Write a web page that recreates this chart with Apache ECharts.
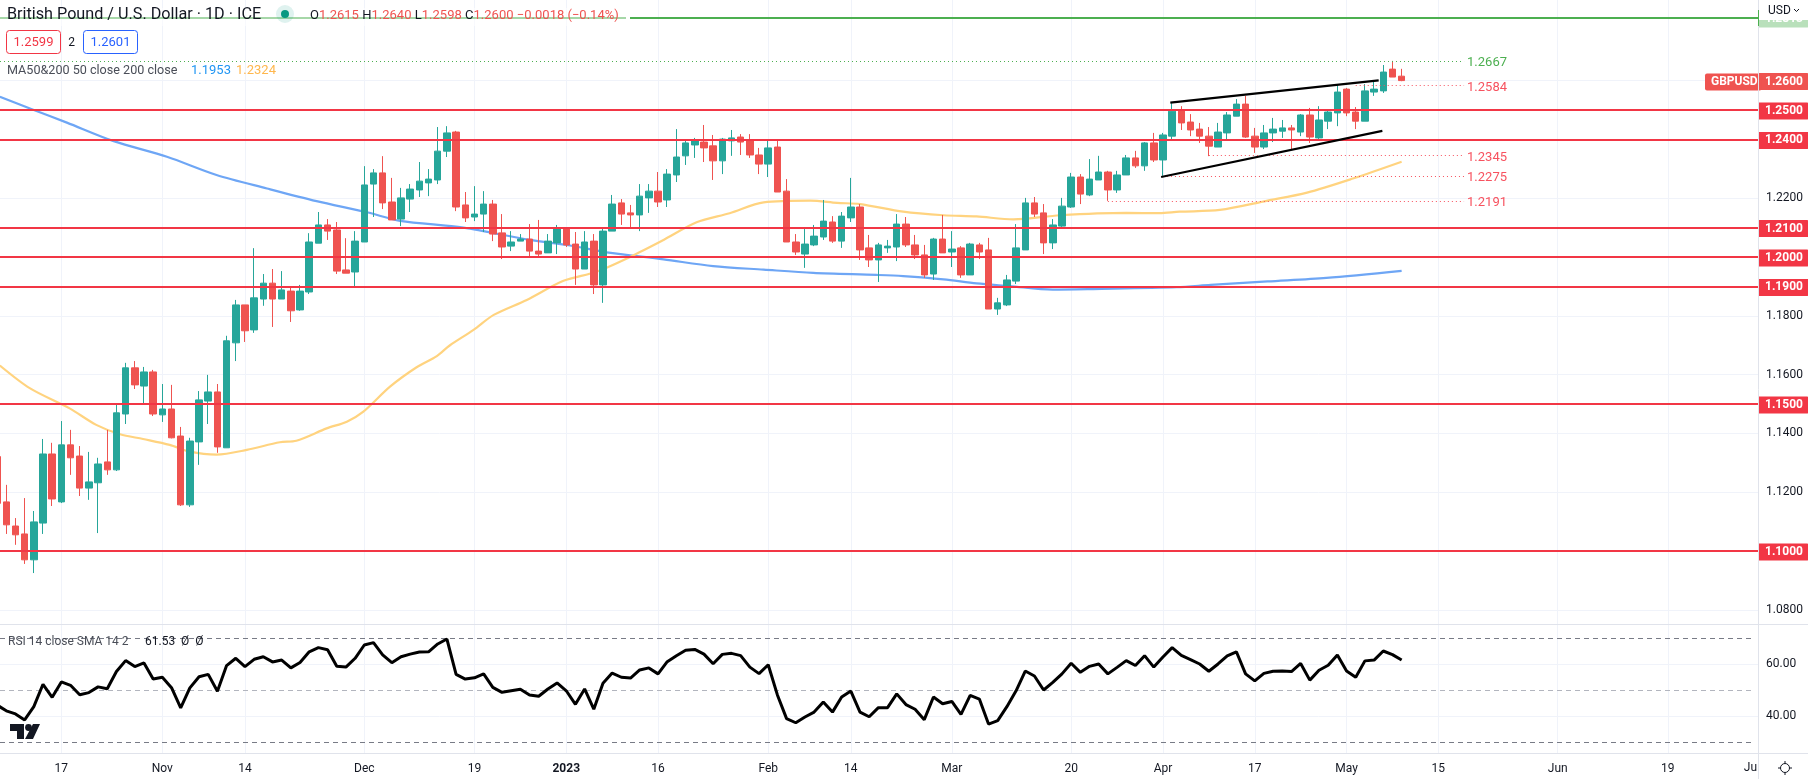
<!DOCTYPE html>
<html><head><meta charset="utf-8"><title>GBPUSD</title>
<style>html,body{margin:0;padding:0;background:#fff}#c{width:1808px;height:779px}</style>
<script src="https://cdn.jsdelivr.net/npm/echarts@6/dist/echarts.min.js"></script></head>
<body><div id="c"></div>
<script>
const opens=[1.1321,1.1167,1.1085,1.1058,1.0970,1.1095,1.1330,1.1167,1.1361,1.1323,1.1214,1.1232,1.1303,1.1276,1.1466,1.1623,1.1561,1.1609,1.1463,1.1483,1.1391,1.1157,1.1371,1.1510,1.1541,1.1351,1.1708,1.1837,1.1752,1.1857,1.1911,1.1857,1.1884,1.1820,1.1881,1.2047,1.2109,1.2092,1.1956,1.1949,1.2051,1.2248,1.2286,1.2187,1.2129,1.2197,1.2228,1.2252,1.2262,1.2360,
1.2425,1.2177,1.2136,1.2146,1.2180,1.2082,1.2037,1.2054,1.2061,1.2020,1.2014,1.2048,1.2095,1.2044,1.1959,1.2054,1.1905,1.2088,1.2184,1.2150,1.2143,1.2201,1.2224,1.2194,1.2279,1.2344,1.2381,1.2391,1.2378,1.2327,1.2395,1.2408,1.2398,1.2347,1.2316,1.2374,1.2224,1.2051,1.2010,1.2041,1.2068,1.2119,1.2054,1.2133,1.2170,1.2031,1.1990,1.2031,1.2034,1.2112,
1.2041,1.2007,1.1942,1.2061,1.2017,1.2031,1.1939,1.2041,1.2024,1.1823,1.1837,1.1918,1.2024,1.2184,1.2150,1.2048,1.2105,1.2170,1.2272,1.2211,1.2262,1.2289,1.2228,1.2279,1.2337,1.2310,1.2388,1.2330,1.2411,1.2500,1.2459,1.2435,1.2411,1.2374,1.2422,1.2479,1.2520,1.2411,1.2374,1.2422,1.2428,1.2439,1.2425,1.2483,1.2405,1.2462,1.2490,1.2571,1.2493,1.2462,1.2561,1.2565,1.2639,1.2615];
const closes=[1.1162,1.1089,1.1055,1.0970,1.1099,1.1330,1.1177,1.1361,1.1317,1.1214,1.1235,1.1296,1.1276,1.1470,1.1623,1.1565,1.1609,1.1466,1.1483,1.1385,1.1157,1.1374,1.1514,1.1541,1.1354,1.1715,1.1837,1.1749,1.1861,1.1911,1.1857,1.1888,1.1817,1.1884,1.2051,1.2109,1.2088,1.1952,1.1945,1.2054,1.2245,1.2286,1.2184,1.2126,1.2201,1.2231,1.2258,1.2265,1.2360,1.2422,
1.2170,1.2133,1.2146,1.2180,1.2078,1.2034,1.2051,1.2061,1.2020,1.2010,1.2054,1.2095,1.2041,1.1959,1.2051,1.1905,1.2088,1.2180,1.2146,1.2143,1.2207,1.2224,1.2187,1.2282,1.2340,1.2388,1.2395,1.2371,1.2327,1.2401,1.2405,1.2391,1.2347,1.2316,1.2371,1.2221,1.2051,1.2017,1.2044,1.2071,1.2122,1.2054,1.2139,1.2170,1.2024,1.1990,1.2041,1.2037,1.2112,1.2041,
1.2007,1.1939,1.2061,1.2014,1.2027,1.1939,1.2044,1.2017,1.1823,1.1844,1.1922,1.2031,1.2184,1.2146,1.2048,1.2109,1.2173,1.2272,1.2214,1.2265,1.2289,1.2228,1.2279,1.2337,1.2310,1.2388,1.2330,1.2415,1.2496,1.2456,1.2432,1.2411,1.2377,1.2425,1.2483,1.2520,1.2408,1.2374,1.2422,1.2435,1.2439,1.2432,1.2483,1.2408,1.2466,1.2493,1.2561,1.2490,1.2462,1.2565,1.2571,1.2629,1.2612,1.2600];
const highs=[1.1340,1.1225,1.1112,1.1180,1.1136,1.1381,1.1368,1.1442,1.1412,1.1357,1.1337,1.1317,1.1412,1.1500,1.1640,1.1646,1.1626,1.1616,1.1568,1.1565,1.1422,1.1385,1.1544,1.1599,1.1568,1.1732,1.1854,1.1837,1.2030,1.1942,1.1959,1.1952,1.1901,1.1905,1.2081,1.2153,1.2129,1.2119,1.2064,1.2088,1.2309,1.2299,1.2343,1.2269,1.2235,1.2248,1.2323,1.2299,1.2442,1.2445,
1.2429,1.2221,1.2241,1.2224,1.2194,1.2146,1.2088,1.2078,1.2112,1.2126,1.2078,1.2109,1.2102,1.2085,1.2088,1.2078,1.2099,1.2211,1.2197,1.2177,1.2248,1.2248,1.2289,1.2299,1.2435,1.2398,1.2405,1.2449,1.2415,1.2405,1.2432,1.2418,1.2418,1.2371,1.2395,1.2398,1.2265,1.2078,1.2095,1.2109,1.2194,1.2139,1.2153,1.2269,1.2180,1.2075,1.2048,1.2058,1.2146,1.2136,
1.2075,1.2041,1.2065,1.2143,1.2088,1.2037,1.2048,1.2048,1.2065,1.1861,1.1939,1.2112,1.2201,1.2204,1.2180,1.2129,1.2201,1.2286,1.2282,1.2333,1.2344,1.2293,1.2293,1.2347,1.2361,1.2391,1.2422,1.2422,1.2523,1.2513,1.2486,1.2456,1.2442,1.2456,1.2493,1.2537,1.2548,1.2439,1.2449,1.2473,1.2466,1.2449,1.2486,1.2507,1.2513,1.2500,1.2585,1.2575,1.2510,1.2588,1.2599,1.2653,1.2667,1.2640];
const lows=[1.1140,1.1058,1.1021,1.0956,1.0925,1.1058,1.1153,1.1163,1.1259,1.1187,1.1174,1.1061,1.1259,1.1272,1.1432,1.1551,1.1500,1.1459,1.1439,1.1383,1.1153,1.1150,1.1293,1.1432,1.1334,1.1351,1.1646,1.1711,1.1742,1.1834,1.1762,1.1857,1.1779,1.1817,1.1874,1.2047,1.2058,1.1942,1.1945,1.1901,1.2051,1.2136,1.2163,1.2126,1.2105,1.2153,1.2204,1.2207,1.2248,1.2340,
1.2156,1.2119,1.2122,1.2085,1.2054,1.1993,1.2020,1.2054,1.2003,1.2003,1.2014,1.2010,1.2034,1.1905,1.1959,1.1874,1.1844,1.2088,1.2109,1.2102,1.2088,1.2150,1.2170,1.2170,1.2255,1.2313,1.2337,1.2323,1.2262,1.2282,1.2344,1.2347,1.2337,1.2282,1.2272,1.2221,1.2051,1.2007,1.1963,1.2037,1.2058,1.2048,1.2031,1.2119,1.1990,1.1966,1.1915,1.2014,1.1986,1.2034,
1.1993,1.1929,1.1922,1.2014,1.1966,1.1929,1.1939,1.1993,1.1823,1.1803,1.1833,1.1908,1.2024,1.2136,1.2010,1.2027,1.2102,1.2167,1.2180,1.2207,1.2262,1.2191,1.2218,1.2279,1.2303,1.2293,1.2323,1.2276,1.2398,1.2432,1.2411,1.2388,1.2343,1.2374,1.2398,1.2479,1.2405,1.2354,1.2367,1.2391,1.2405,1.2367,1.2411,1.2388,1.2401,1.2435,1.2445,1.2479,1.2435,1.2462,1.2548,1.2558,1.2612,1.2598];
const rsi=[44.2,42.0,40.8,38.5,43.6,52.2,47.2,53.1,51.8,48.2,49.0,51.2,50.5,57.1,61.3,59.0,60.4,54.2,54.9,50.9,43.1,50.8,55.1,56.0,49.5,59.4,62.2,59.0,61.8,62.8,60.8,61.5,58.5,60.6,64.7,66.3,65.5,59.1,58.8,62.2,67.3,68.2,63.5,60.5,62.8,63.8,64.6,64.7,67.7,69.6,56.0,54.2,54.7,56.2,51.0,49.1,49.7,50.3,48.1,47.6,50.4,52.7,49.7,44.5,50.4,42.6,
52.6,56.5,54.9,54.6,57.7,58.5,56.2,60.9,63.2,65.3,65.6,63.8,60.1,63.7,64.1,63.2,58.8,56.3,59.7,48.1,39.0,37.4,39.6,41.5,45.4,41.5,47.3,49.6,41.5,39.7,43.2,43.2,48.5,44.4,42.6,38.6,47.3,44.7,45.6,40.6,47.9,46.5,36.9,38.2,43.6,49.7,57.3,55.4,50.0,52.9,56.2,60.3,56.8,59.1,60.0,56.2,58.7,61.3,59.4,63.2,58.8,62.7,66.3,63.3,61.7,60.0,57.2,60.0,63.1,64.7,56.2,53.5,56.4,57.2,57.3,57.1,60.2,
53.8,57.6,59.5,63.5,57.3,54.9,61.2,61.5,65.0,63.6,61.53];
// moving averages, read at sparse bar positions: [bar, value]
const ma200=[[0.3,1.2545],[4,1.2500],[7.6,1.2457],[12.7,1.2394],[18.5,1.2341],[23.9,1.2279],[29.4,1.2233],[34.8,1.2190],[40.3,1.2152],[43.9,1.2123],[50.8,1.2100],[58,1.2058],[62.4,1.2039],[66.4,1.2016],[72.6,1.1992],[78,1.1969],[83.5,1.1957],[88.9,1.1946],[95.8,1.1939],[98.7,1.1935],[103.1,1.1924],[106.7,1.1910],[110.3,1.1901],[115,1.1889],[119.4,1.1891],[128.5,1.1897],[132.2,1.1905],[138.4,1.1917],[144.8,1.1929],[153,1.1953]];
const ma50=[[0.3,1.1631],[3.6,1.1553],[7.9,1.1485],[10.8,1.1429],[13.4,1.1397],[15.9,1.1381],[18.8,1.1361],[21,1.1338],[23.9,1.1328],[27.2,1.1344],[30.8,1.1370],[32.6,1.1375],[35.9,1.1417],[38.1,1.1440],[39.9,1.1474],[42.8,1.1559],[45.7,1.1625],[47.9,1.1663],[49.3,1.1699],[51.9,1.1752],[54.1,1.1803],[57.7,1.1854],[61.7,1.1919],[65.3,1.1950],[69,1.2001],[72.6,1.2058],[76.2,1.2118],[79.8,1.2149],[83.5,1.2186],[88.6,1.2192],[91.5,1.2184],[94,1.2180],[98.7,1.2154],[103.1,1.2142],[106.7,1.2138],[110.7,1.2128],[115.8,1.2142],[123,1.2150],[126.6,1.2149],[128.8,1.2154],[133.2,1.2160],[138.3,1.2191],[142.7,1.2219],[147.7,1.2267],[153,1.2324]];
const trendUpper=[[127.8,1.2525],[150.5,1.2601]];
const trendLower=[[126.8,1.2272],[150.9,1.2429]];
const redLevels=[1.25,1.24,1.21,1.20,1.19,1.15,1.10];
const greenLevel=1.2813;
const pinkDotted=[[148,1.2584],[132,1.2345],[127,1.2275],[121,1.2191]];
const greenDotted=1.2667;
const priceTicks=[1.08,1.10,1.12,1.14,1.16,1.18,1.20,1.22,1.24,1.26];
const priceLabels=[1.08,1.12,1.14,1.16,1.18,1.22];
const rsiGrid=[40,60];
const rsiBands=[70,50,30];
const dateTicks=[7,18,27,40,52,62,72,84,93,104,117,127,137,147,157,170,182];
const dateLabels=['17','Nov','14','Dec','19','2023','16','Feb','14','Mar','20','Apr','17','May','15','Jun','19'];

const F='Roboto, "Open Sans", sans-serif';
const xMin=0.316,xMax=191.82,dotEnd=159.8;
const xBase=(idx,show)=>({type:'value',gridIndex:idx,min:xMin,max:xMax,position:'bottom',
  axisLine:{show:false},
  axisTick:{show:false,customValues:dateTicks},
  splitLine:{show:true,lineStyle:{color:'#f0f3fa',width:1}},
  axisLabel:show?{show:true,customValues:dateTicks,margin:10,color:'#131722',fontFamily:F,fontSize:12,hideOverlap:false,showMinLabel:true,showMaxLabel:true,
    formatter:v=>{const l=dateLabels[dateTicks.indexOf(v)];return l==='2023'?'{b|2023}':(l||'');},
    rich:{b:{fontWeight:'bold',color:'#131722',fontFamily:F,fontSize:12}}}:{show:false}});
const tag=(v,bg,lab)=>({yAxis:v,lineStyle:{color:bg,width:2,type:'solid'},
  label:{show:true,position:'end',distance:0,formatter:v.toFixed(4),color:'#fff',fontFamily:F,fontSize:12,fontWeight:'bold',backgroundColor:lab||bg,padding:[3,6,2,7],borderRadius:[0,2,2,0],offset:[0,1]}});
const seg=(x,v,c)=>[{coord:[x,v],lineStyle:{color:c,width:1,type:[1,3]},
    label:{show:true,position:'end',distance:3,offset:[0,2],formatter:v.toFixed(4),color:c,fontFamily:F,fontSize:13}},{coord:[dotEnd,v]}];
const lineS=(data,color,width,z,smooth)=>({type:'line',xAxisIndex:0,yAxisIndex:0,data,showSymbol:false,symbol:'none',z,smooth:smooth||false,
  lineStyle:{color,width},silent:true,animation:false});

const graphics=[
 {type:'rect',z:50,shape:{x:0,y:8,width:626,height:18},style:{fill:'rgba(255,255,255,0.5)'}},
 {type:'rect',z:50,shape:{x:626,y:8,width:4,height:18},style:{fill:'#fff'}},
 {type:'text',z:60,style:{x:7,y:15,text:'British Pound / U.S. Dollar · 1D · ICE',fontFamily:F,fontSize:16.2,fill:'#131722',verticalAlign:'middle'}},
 {type:'circle',z:60,shape:{cx:285,cy:14,r:9},style:{fill:'rgba(8,153,129,0.13)'}},
 {type:'circle',z:61,shape:{cx:285,cy:14,r:4},style:{fill:'#089981'}},
 {type:'text',z:60,style:{x:310,y:16,verticalAlign:'middle',text:'{k|O}{r|1.2615} {k|H}{r|1.2640} {k|L}{r|1.2598} {k|C}{r|1.2600} {r|−0.0018 (−0.14%)}',
   rich:{k:{fill:'#131722',fontFamily:F,fontSize:13},r:{fill:'#ef5350',fontFamily:F,fontSize:13}}}},
 {type:'rect',z:60,shape:{x:6.5,y:30.5,width:54,height:23,r:3},style:{fill:'#fff',stroke:'#f23645',lineWidth:1}},
 {type:'text',z:61,style:{x:33.5,y:43,text:'1.2599',align:'center',verticalAlign:'middle',fill:'#f23645',fontFamily:F,fontSize:13}},
 {type:'text',z:61,style:{x:71.5,y:43,text:'2',align:'center',verticalAlign:'middle',fill:'#131722',fontFamily:F,fontSize:12}},
 {type:'rect',z:60,shape:{x:83.5,y:30.5,width:54,height:23,r:3},style:{fill:'#fff',stroke:'#2962ff',lineWidth:1}},
 {type:'text',z:61,style:{x:110.5,y:43,text:'1.2601',align:'center',verticalAlign:'middle',fill:'#2962ff',fontFamily:F,fontSize:13}},
 {type:'text',z:60,style:{x:7,y:71,text:'MA50&200 50 close 200 close',verticalAlign:'middle',fill:'#4a4e58',fontFamily:F,fontSize:12.6}},
 {type:'text',z:60,style:{x:191,y:71,text:'1.1953',verticalAlign:'middle',fill:'#2196f3',fontFamily:F,fontSize:13}},
 {type:'text',z:60,style:{x:236,y:71,text:'1.2324',verticalAlign:'middle',fill:'#ffb74d',fontFamily:F,fontSize:13}},
 {type:'text',z:60,style:{x:8,y:642,text:'RSI 14 close SMA 14 2',verticalAlign:'middle',fill:'#4a4e58',fontFamily:F,fontSize:12}},
 {type:'text',z:60,style:{x:145,y:642,text:'61.53  Ø  Ø',verticalAlign:'middle',fill:'#131722',fontFamily:F,fontSize:12}},
 // frame
 {type:'rect',z:70,shape:{x:1759,y:0,width:49,height:20},style:{fill:'#fff'}},
 {type:'text',z:71,style:{x:1768,y:11,text:'USD',verticalAlign:'middle',fill:'#131722',fontFamily:F,fontSize:12}},
 {type:'polyline',z:71,shape:{points:[[1794,9],[1796.5,11.5],[1799,9]]},style:{stroke:'#131722',fill:null,lineWidth:1}},
 {type:'line',z:72,shape:{x1:1758.5,y1:0,x2:1758.5,y2:779},style:{stroke:'#e0e3eb',lineWidth:1}},
 {type:'line',z:73,shape:{x1:1758.5,y1:10,x2:1758.5,y2:26},style:{stroke:'#4caf50',lineWidth:1}},
 {type:'line',z:40,shape:{x1:0,y1:624.5,x2:1808,y2:624.5},style:{stroke:'#e0e3eb',lineWidth:1}},
 {type:'line',z:40,shape:{x1:0,y1:753.5,x2:1808,y2:753.5},style:{stroke:'#e0e3eb',lineWidth:1}},
 // price tag
 {type:'text',z:60,style:{x:1705,y:82,text:'GBPUSD',verticalAlign:'middle',fill:'#fff',fontFamily:F,fontSize:12,fontWeight:'bold',backgroundColor:'#ef5350',padding:[3,4,2,6],borderRadius:2}},
 {type:'text',z:60,style:{x:1757,y:768,text:'Ju',align:'right',verticalAlign:'middle',fill:'#131722',fontFamily:F,fontSize:12}},
 // TradingView mark
 {type:'polygon',z:60,shape:{points:[[10,724],[24,724],[24,739],[17,739],[17,731],[10,731]]},style:{fill:'#131722'}},
 {type:'circle',z:60,shape:{cx:28.5,cy:727.5,r:3.4},style:{fill:'#131722'}},
 {type:'polygon',z:60,shape:{points:[[33,724],[40,724],[33,739],[25,739]]},style:{fill:'#131722'}},
 // settings
 {type:'circle',z:60,shape:{cx:1785,cy:768,r:4.5},style:{fill:'none',stroke:'#131722',lineWidth:1}},
 {type:'line',z:60,shape:{x1:1785,y1:761,x2:1785,y2:763.5},style:{stroke:'#131722'}},
 {type:'line',z:60,shape:{x1:1785,y1:772.5,x2:1785,y2:775},style:{stroke:'#131722'}},
 {type:'line',z:60,shape:{x1:1778,y1:768,x2:1780.5,y2:768},style:{stroke:'#131722'}},
 {type:'line',z:60,shape:{x1:1789.5,y1:768,x2:1792,y2:768},style:{stroke:'#131722'}}
];

const option={animation:false,backgroundColor:'#fff',
 grid:[{left:0,top:0,width:1758,height:624},{left:0,top:624,width:1758,height:129}],
 xAxis:[xBase(0,false),xBase(1,true)],
 yAxis:[
  {type:'value',gridIndex:0,position:'right',min:1.07517,max:1.28741,scale:true,
   axisLine:{show:false},axisTick:{show:false,customValues:priceTicks},
   splitLine:{show:true,lineStyle:{color:'#f0f3fa',width:1}},
   axisLabel:{customValues:priceLabels,margin:8,color:'#131722',fontFamily:F,fontSize:12,padding:[2,0,0,0],formatter:v=>v.toFixed(4)}},
  {type:'value',gridIndex:1,position:'right',min:25.77,max:75.38,
   axisLine:{show:false},axisTick:{show:false,customValues:rsiGrid},
   splitLine:{show:true,lineStyle:{color:'#f0f3fa',width:1}},
   axisLabel:{customValues:rsiGrid,margin:8,color:'#131722',fontFamily:F,fontSize:12,padding:[2,0,0,0],formatter:v=>v.toFixed(2)}}
 ],
 graphic:{elements:graphics},
 series:[
  lineS(ma200,'#6ea6f5',2.2,1,0.3),
  lineS(ma50,'#ffd37f',2.2,1,0.3),
  {type:'candlestick',xAxisIndex:0,yAxisIndex:0,barWidth:7,z:2,silent:true,animation:false,
   data:opens.map((o,i)=>[i,o,closes[i],lows[i],highs[i]]),
   encode:{x:0,y:[1,2,3,4]},
   itemStyle:{color:'#26a69a',color0:'#ef5350',borderColor:'#26a69a',borderColor0:'#ef5350',borderWidth:1},
   markLine:{silent:true,symbol:'none',animation:false,z:5,precision:4,
    data:[...redLevels.map(v=>tag(v,'#f23645')),tag(greenLevel,'#4caf50','#b9e0bb'),
     {yAxis:1.26,lineStyle:{color:'rgba(0,0,0,0)',width:1},label:{show:true,position:'end',distance:0,offset:[0,1],formatter:'1.2600',color:'#fff',fontFamily:F,fontSize:12,fontWeight:'bold',backgroundColor:'#ef5350',padding:[3,6,2,7],borderRadius:[0,2,2,0]}},
     ...pinkDotted.map(p=>seg(p[0],p[1],'#f7525f')),
     seg(xMin,greenDotted,'#4caf50')]}},
  lineS(trendUpper,'#000',2.2,6),
  lineS(trendLower,'#000',2.2,6),
  {type:'line',xAxisIndex:1,yAxisIndex:1,data:rsi.map((v,i)=>[i,v]),showSymbol:false,symbol:'none',z:3,lineStyle:{color:'#000',width:3},silent:true,animation:false,
   markLine:{silent:true,symbol:'none',animation:false,z:1,
    data:rsiBands.map(v=>[{coord:[xMin,v],lineStyle:{color:v===50?'#b2b5be':'#787b86',width:1,type:[5,4]},label:{show:false}},{coord:[191.2,v]}])}}
 ]};
const chart=echarts.init(document.getElementById('c'),null,{renderer:'canvas'});
chart.setOption(option);
</script></body></html>
